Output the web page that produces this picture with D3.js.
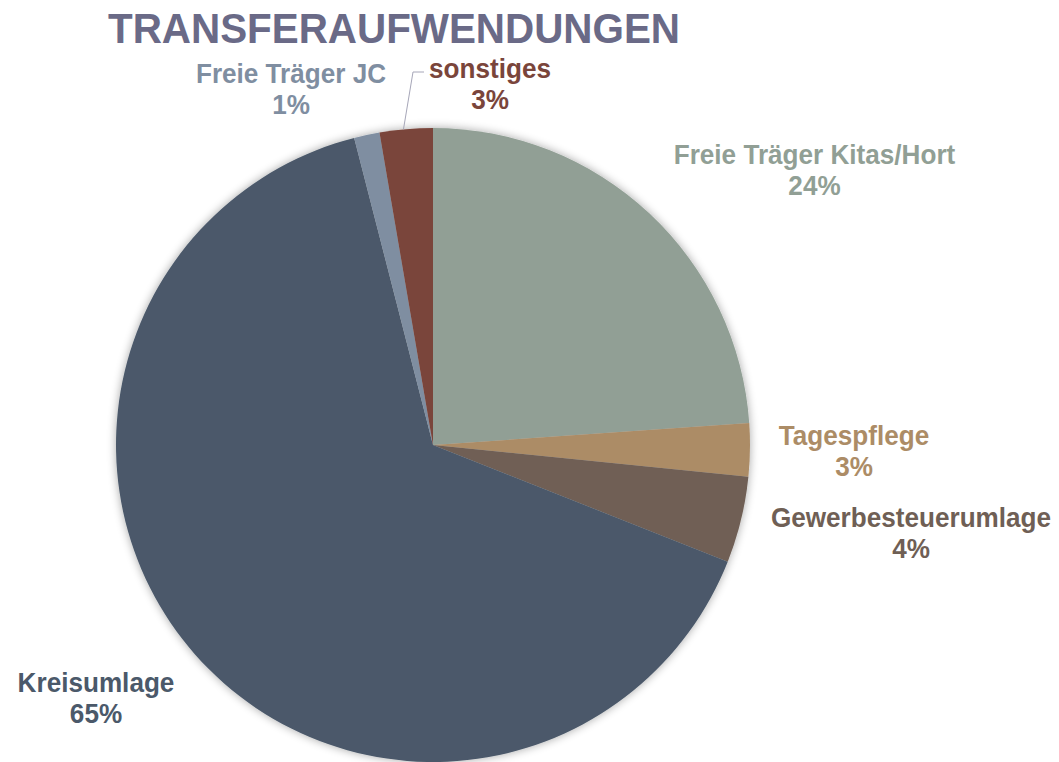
<!DOCTYPE html>
<html><head><meta charset="utf-8">
<script src="https://cdn.jsdelivr.net/npm/d3@7/dist/d3.min.js"></script>
<style>
html,body{margin:0;padding:0;background:#fff;}
svg{display:block;font-family:"Liberation Sans",Arial,sans-serif;font-weight:bold;}
</style></head>
<body>
<svg id="chart" width="1059" height="762"></svg>
<script>
const title = "TRANSFERAUFWENDUNGEN";
const categories = ["Freie Träger Kitas/Hort","Tagespflege","Gewerbesteuerumlage","Kreisumlage","Freie Träger JC","sonstiges"];
const values = [23.9, 2.7, 4.4, 65.0, 1.3, 2.7];
const colors = ["#919f95","#ac8c66","#6f5f55","#4b596a","#7f8ea1","#7a453b"];
const labelColors = ["#919f95","#ac8c66","#6f5f55","#4b596a","#7f8ea1","#7a453b"];
// label placement offsets from pie centre (layout, not data)
const labelOffsets = [[381.5,-281],[421,0],[478,82],[-337,247],[-142,-362],[57,-367]];

const W = 1059, H = 762;
const cx = 433, cy = 445, R = 317;
const svg = d3.select("#chart");

const defs = svg.append("defs");
const f = defs.append("filter").attr("id","sh").attr("x","-10%").attr("y","-10%").attr("width","120%").attr("height","120%");
f.append("feGaussianBlur").attr("in","SourceAlpha").attr("stdDeviation",5).attr("result","b");
f.append("feComponentTransfer").attr("in","b").attr("result","o2").append("feFuncA").attr("type","linear").attr("slope",0.35);
const m = f.append("feMerge");
m.append("feMergeNode").attr("in","o2");
m.append("feMergeNode").attr("in","SourceGraphic");

svg.append("text").attr("x",394).attr("y",43).attr("text-anchor","middle")
  .attr("font-size",43).attr("fill","#6a6a87")
  .attr("textLength",572).attr("lengthAdjust","spacingAndGlyphs").text(title);

const data = categories.map((c,i)=>({cat:c, value:values[i], i}));
const pie = d3.pie().value(d=>d.value).sort(null);
const arcs = pie(data);
const arc = d3.arc().innerRadius(0).outerRadius(R);

const g = svg.append("g").attr("transform",`translate(${cx},${cy})`);
g.append("g").attr("filter","url(#sh)").selectAll("path").data(arcs).join("path")
  .attr("d",arc).attr("fill",d=>colors[d.data.i]);

// leader line for sonstiges
const s = arcs[5];
const lo = labelOffsets[5];
const edgeA = s.startAngle + (s.endAngle-s.startAngle)*0.45;
const p0 = [R*Math.sin(edgeA), -R*Math.cos(edgeA)];
g.append("polyline")
  .attr("points", [[p0[0], p0[1]],[-20, lo[1]-6],[-9, lo[1]-6]].map(p=>p.join(",")).join(" "))
  .attr("fill","none").attr("stroke","#a6a6b8").attr("stroke-width",1);

const lab = g.selectAll("g.lab").data(arcs).join("g").attr("class","lab")
  .attr("transform",d=>`translate(${labelOffsets[d.data.i][0]},${labelOffsets[d.data.i][1]}) scale(0.95,1)`);
lab.append("text").attr("text-anchor","middle").attr("y",0).attr("font-size",27.5)
  .attr("fill",d=>labelColors[d.data.i]).text(d=>d.data.cat);
lab.append("text").attr("text-anchor","middle").attr("y",31).attr("font-size",27.5)
  .attr("fill",d=>labelColors[d.data.i]).text(d=>Math.round(d.data.value)+"%");
</script>
</body></html>
